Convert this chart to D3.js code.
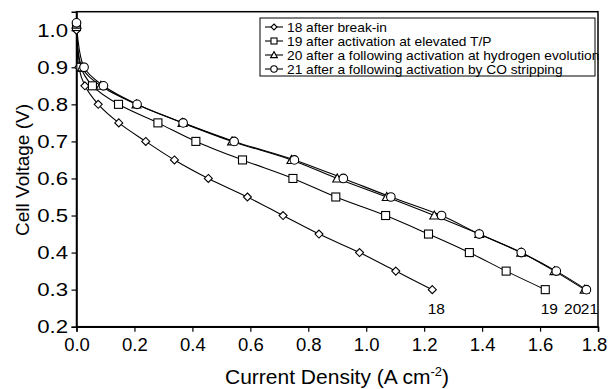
<!DOCTYPE html>
<html><head><meta charset="utf-8">
<script src="https://cdn.jsdelivr.net/npm/d3@7"></script>
<style>body{margin:0;background:#fff}svg{display:block}text{font-family:"Liberation Sans",Arial,sans-serif;fill:#000}</style>
</head><body><svg id="c" width="608" height="389"></svg>
<script>
const xTicks = [0.0,0.2,0.4,0.6,0.8,1.0,1.2,1.4,1.6,1.8];
const yTicks = [0.2,0.3,0.4,0.5,0.6,0.7,0.8,0.9,1.0];
const seriesNames = ["18 after break-in","19 after activation at elevated T/P","20 after a following activation at hydrogen evolution","21 after a following activation by CO stripping"];
const seriesShort = ["18","19","20","21"];
const markers = ["diamond","square","triangle","circle"];
const s18 = [[0,1.0],[0.008,0.9],[0.029,0.85],[0.075,0.8],[0.146,0.75],[0.239,0.7],[0.338,0.65],[0.455,0.6],[0.590,0.55],[0.713,0.5],[0.837,0.45],[0.977,0.4],[1.102,0.35],[1.228,0.3]];
const s19 = [[0,1.01],[0.015,0.9],[0.055,0.85],[0.145,0.8],[0.281,0.75],[0.412,0.7],[0.573,0.65],[0.747,0.6],[0.895,0.55],[1.067,0.5],[1.215,0.45],[1.356,0.4],[1.483,0.35],[1.618,0.3]];
const s20 = [[0,1.015],[0.019,0.9],[0.084,0.85],[0.207,0.8],[0.366,0.75],[0.537,0.7],[0.742,0.65],[0.900,0.6],[1.071,0.55],[1.235,0.5],[1.390,0.45],[1.535,0.4],[1.650,0.35],[1.754,0.3]];
const s21 = [[0,1.02],[0.026,0.9],[0.093,0.85],[0.209,0.8],[0.368,0.75],[0.544,0.7],[0.752,0.65],[0.921,0.6],[1.085,0.55],[1.260,0.5],[1.390,0.45],[1.535,0.4],[1.656,0.35],[1.760,0.3]];
const allSeries = [s18,s19,s20,s21];

const svg = d3.select("#c");
const x = d3.scaleLinear().domain([0,1.8]).range([76.5,598]);
const y = d3.scaleLinear().domain([0.2,1.05]).range([326.7,11.7]);

svg.append("rect").attr("x",76.5).attr("y",11.7).attr("width",598-76.5).attr("height",326.7-11.7)
  .attr("fill","none").attr("stroke","#000").attr("stroke-width",1.5);

const xa = svg.append("g").attr("transform","translate(0,326.7)")
  .call(d3.axisBottom(x).tickValues(xTicks).tickFormat(d3.format(".1f")).tickSizeOuter(0).tickSize(5).tickPadding(6));
const ya = svg.append("g").attr("transform","translate(76.5,0)")
  .call(d3.axisLeft(y).tickValues(yTicks).tickFormat(d3.format(".1f")).tickSizeOuter(0).tickSize(5).tickPadding(3.5));
[xa,ya].forEach(a=>{a.select(".domain").attr("stroke","#000").attr("stroke-width",1.5);
  a.selectAll(".tick line").attr("stroke","#000").attr("stroke-width",1.2);
  a.selectAll("text").style("font-size","18.5px").style("font-family","'Liberation Sans',Arial,sans-serif").attr("fill","#000");});
ya.selectAll("text").attr("transform","scale(1.2,1)").attr("x",-8.5/1.2);
xa.selectAll(".tick:last-of-type text").attr("x",-4);

svg.append("text").attr("x",337).attr("y",384).attr("text-anchor","middle").style("font-size","21px")
  .html('Current Density (A cm<tspan dy="-8" style="font-size:13px">-2</tspan><tspan dy="8">)</tspan>');
svg.append("text").attr("transform","translate(29,170) rotate(-90)").attr("text-anchor","middle").style("font-size","19px")
  .text("Cell Voltage (V)");

const line = d3.line().x(d=>x(d[0])).y(d=>y(d[1])).curve(d3.curveCatmullRom.alpha(0.5));
const g = svg.append("g");
allSeries.forEach(s=>{
  g.append("path").attr("d",line(s)).attr("fill","none").attr("stroke","#000").attr("stroke-width",1.1);
});
function drawMarker(sel,type,cx,cy,k){
  k = k||1;
  let m;
  if(type==="diamond") m = sel.append("path").attr("d",`M${cx},${cy-4*k}L${cx+4*k},${cy}L${cx},${cy+4*k}L${cx-4*k},${cy}Z`);
  else if(type==="square") m = sel.append("rect").attr("x",cx-4*k).attr("y",cy-4*k).attr("width",8*k).attr("height",8*k);
  else if(type==="triangle") m = sel.append("path").attr("d",`M${cx},${cy-4.5*k}L${cx+4.5*k},${cy+3.5*k}L${cx-4.5*k},${cy+3.5*k}Z`);
  else m = sel.append("circle").attr("cx",cx).attr("cy",cy).attr("r",4.3*k);
  m.attr("fill","#fff").attr("stroke","#000").attr("stroke-width",1.1);
}
allSeries.forEach((s,i)=>{
  s.forEach(d=>drawMarker(g,markers[i],x(d[0]),y(d[1])));
});

// end labels
allSeries.forEach((s,i)=>{
  const last = s[s.length-1];
  const lx = i===2 ? x(last[0])-12 : (i===3 ? x(last[0])+3 : x(last[0])+4);
  svg.append("text").attr("x",lx).attr("y",y(last[1])+24).attr("text-anchor","middle").style("font-size","15.5px").text(seriesShort[i]);
});

// legend
const lg = svg.append("g");
lg.append("rect").attr("x",260).attr("y",18).attr("width",335).attr("height",58).attr("fill","#fff").attr("stroke","#000").attr("stroke-width",1);
seriesNames.forEach((n,i)=>{
  const ly = 27 + i*14;
  lg.append("line").attr("x1",265).attr("x2",283).attr("y1",ly).attr("y2",ly).attr("stroke","#000").attr("stroke-width",1.1);
  drawMarker(lg,markers[i],274,ly,0.75);
  lg.append("text").attr("transform",`translate(287,${ly+4.5}) scale(1.1,1)`).style("font-size","12.5px").text(n);
});
</script></body></html>
